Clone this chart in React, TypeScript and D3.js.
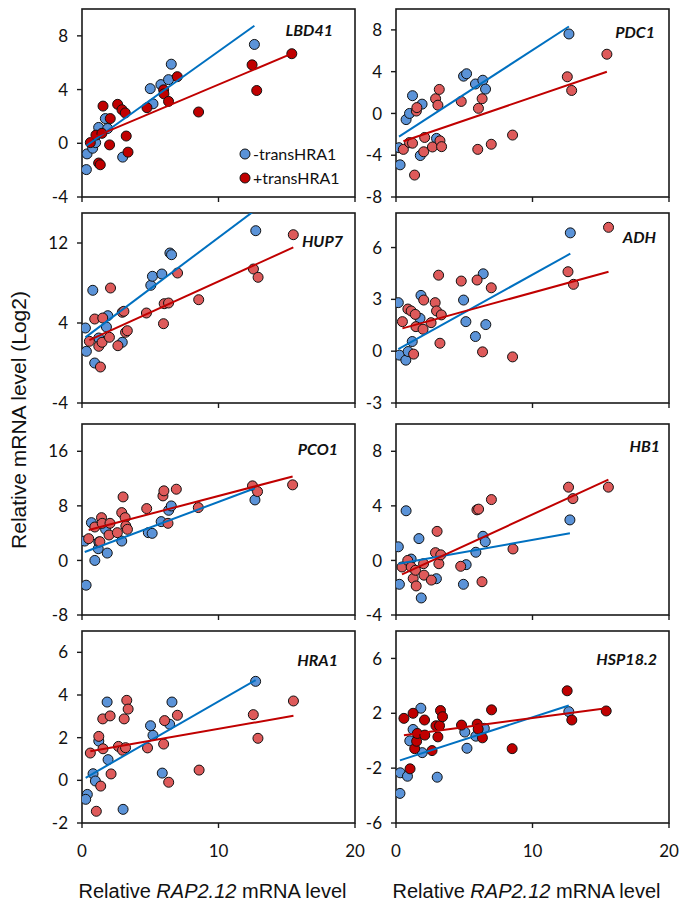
import * as d3 from 'd3';

type Pt = [number, number];

// shared x axis (relative RAP2.12 mRNA level)
const xDomain: [number, number] = [0, 20];
const xTicks = [0, 10, 20];

const genes = ['LBD41', 'PDC1', 'HUP7', 'ADH', 'PCO1', 'HB1', 'HRA1', 'HSP18.2'];

const yDomains: [number, number][] = [
  [-4, 10], [-8, 10], [-4, 15], [-3, 8],
  [-8, 20], [-4, 10], [-2, 7], [-6, 8],
];

const yTicks: number[][] = [
  [-4, 0, 4, 8], [-8, -4, 0, 4, 8], [-4, 4, 12], [-3, 0, 3, 6],
  [-8, 0, 8, 16], [-4, 0, 4, 8], [-2, 0, 2, 4, 6], [-6, -2, 2, 6],
];

// trend lines: [intercept, slope]
const blueFit: Pt[] = [
  [-0.42, 0.726], [-2.41, 0.847], [2.31, 1.023], [0.05, 0.438],
  [1.08, 0.75], [-0.28, 0.178], [0.02, 0.368], [-1.53, 0.324],
];
const redFit: Pt[] = [
  [0.08, 0.429], [-2.9, 0.446], [1.96, 0.62], [1.22, 0.217],
  [4.2, 0.525], [-1.23, 0.46], [1.29, 0.112], [0.32, 0.133],
];

// -transHRA1 (blue) and +transHRA1 (red) samples, [RAP2.12, gene]
const lbd41Blue: Pt[] = [
  [0.32, -1.96], [0.37, -0.79], [0.78, -0.37], [1.0, 0.05], [1.22, 1.18], [1.71, 1.84],
  [1.88, 1.1], [2.98, -1.03], [5.0, 4.07], [5.2, 2.94], [5.78, 4.37], [6.34, 4.74],
  [6.54, 5.89], [12.63, 7.36],
];
const lbd41Red: Pt[] = [
  [0.61, 0.05], [1.02, 0.61], [1.22, -1.47], [1.34, -1.6], [1.54, 2.77], [1.46, 0.74],
  [2.02, -0.12], [2.07, 1.84], [2.61, 2.9], [2.93, 2.5], [3.17, 2.26], [3.24, 0.54],
  [3.37, -0.66], [4.76, 2.65], [5.98, 3.98], [6.0, 3.68], [6.34, 3.12], [6.98, 4.96],
  [8.54, 2.33], [12.46, 5.84], [12.8, 3.93], [15.37, 6.67],
];

const pdc1Blue: Pt[] = [
  [0.22, -3.28], [0.3, -4.92], [0.74, -0.59], [0.99, 0.0], [1.21, 1.7], [1.78, -4.03],
  [1.91, 0.89], [2.97, -2.39], [4.95, 3.57], [5.17, 3.8], [5.82, 2.82], [6.36, 3.18],
  [6.56, 2.33], [12.67, 7.61],
];
const pdc1Red: Pt[] = [
  [0.54, -3.44], [0.99, -2.79], [1.21, -2.85], [1.36, -5.9], [1.49, 0.23], [1.53, 0.56],
  [2.03, -3.67], [2.1, -2.3], [2.67, -3.21], [2.9, 1.41], [3.07, 0.79], [3.17, 2.3],
  [3.22, -2.62], [3.34, -3.18], [4.78, 1.15], [5.99, -3.44], [6.04, 0.49], [6.31, 1.41],
  [6.98, -2.95], [8.54, -2.07], [12.55, 3.51], [12.87, 2.2], [15.45, 5.67],
];

const hup7Blue: Pt[] = [
  [0.25, 3.5], [0.32, 1.17], [0.79, 7.27], [0.93, 0.0], [1.23, 2.5], [1.89, 4.73],
  [1.79, 3.6], [2.95, 2.07], [5.04, 7.77], [5.16, 8.67], [5.85, 8.9], [6.44, 11.0],
  [6.56, 10.83], [12.73, 13.23],
];
const hup7Red: Pt[] = [
  [0.54, 2.17], [0.93, 4.4], [1.23, 1.67], [1.35, -0.4], [1.47, 2.07], [1.52, 4.5],
  [2.01, 2.57], [2.09, 7.5], [2.63, 1.73], [2.95, 5.07], [3.07, 5.17], [3.19, 3.07],
  [3.32, 3.23], [4.72, 5.0], [5.97, 3.93], [6.02, 5.93], [6.34, 6.0], [7.0, 9.0],
  [8.55, 6.33], [12.56, 9.4], [12.9, 8.57], [15.48, 12.83],
];

const adhBlue: Pt[] = [
  [0.17, 2.81], [0.25, -0.23], [0.72, -0.52], [0.89, -0.02], [1.19, 0.56], [1.83, 3.23],
  [1.76, 1.9], [4.95, 2.96], [5.12, 1.71], [5.82, 0.85], [6.39, 4.48], [6.58, 1.54],
  [12.77, 6.85],
];
const adhRed: Pt[] = [
  [0.47, 1.71], [0.87, 2.44], [1.11, 2.33], [1.29, -0.17], [1.41, 2.13], [1.46, 1.42],
  [2.03, 2.96], [1.98, 1.27], [2.57, 1.65], [2.87, 2.81], [2.97, 2.33], [3.12, 4.4],
  [3.22, 0.46], [3.32, 2.1], [4.78, 4.06], [5.94, 4.12], [6.34, -0.04], [6.98, 3.67],
  [8.54, -0.33], [12.6, 4.6], [13.0, 3.87], [15.57, 7.17],
];

const pco1Blue: Pt[] = [
  [0.2, 2.84], [0.3, -3.63], [0.69, 5.54], [0.94, 0.0], [1.19, 1.72], [1.23, 2.7],
  [1.73, 4.56], [1.85, 1.08], [2.91, 2.84], [4.86, 4.07], [5.14, 3.97], [5.8, 5.69],
  [6.35, 7.35], [6.54, 7.99], [12.67, 8.87],
];
const pco1Red: Pt[] = [
  [0.49, 3.19], [0.94, 4.9], [1.31, 2.75], [1.43, 6.27], [1.48, 5.44], [1.98, 3.73],
  [2.05, 5.44], [2.59, 4.07], [2.91, 7.01], [3.01, 9.31], [3.16, 6.27], [3.21, 5.05],
  [3.33, 4.56], [4.74, 7.6], [5.93, 9.46], [6.0, 10.2], [6.3, 5.44], [6.91, 10.44],
  [8.52, 7.75], [12.49, 10.93], [12.86, 10.1], [15.43, 11.08],
];

const hb1Blue: Pt[] = [
  [0.17, 1.0], [0.25, -1.75], [0.74, 3.64], [1.11, 0.1], [1.68, 1.6], [1.85, -2.75],
  [2.96, -1.34], [4.94, -1.75], [5.14, -0.31], [5.85, 0.6], [6.37, 1.77], [6.54, 1.37],
  [12.74, 2.97],
];
const hb1Red: Pt[] = [
  [0.44, -0.48], [0.86, 0.0], [1.11, -0.48], [1.26, -1.32], [1.43, -0.72], [1.48, -1.87],
  [2.02, -0.24], [2.05, -1.08], [2.59, -1.44], [2.89, 0.57], [3.01, 2.13], [3.14, -0.24],
  [3.28, 0.41], [4.74, -0.43], [5.93, 3.71], [6.05, 3.76], [6.3, -1.56], [6.99, 4.46],
  [8.57, 0.84], [12.64, 5.37], [12.96, 4.53], [15.56, 5.37],
];

const hra1Blue: Pt[] = [
  [0.39, -0.66], [0.27, -0.89], [0.81, 0.31], [0.98, -0.03], [1.23, 1.84], [1.84, 3.67],
  [1.91, 0.97], [3.01, -1.36], [5.02, 2.56], [5.2, 2.11], [5.88, 0.34], [6.42, 2.63],
  [6.59, 3.67], [12.72, 4.64],
];
const hra1Red: Pt[] = [
  [0.61, 1.28], [1.05, -1.45], [1.23, 2.06], [1.37, -0.27], [1.52, 2.88], [1.54, 1.48],
  [2.06, 3.02], [2.13, 0.3], [2.67, 1.59], [2.97, 1.41], [3.09, 2.88], [3.19, 1.53],
  [3.28, 3.75], [3.38, 3.34], [4.8, 1.52], [5.98, 1.7], [6.05, 2.8], [6.35, -0.09],
  [6.99, 3.05], [8.58, 0.48], [12.55, 3.08], [12.89, 1.97], [15.49, 3.72],
];

const hspBlue: Pt[] = [
  [0.31, -2.34], [0.29, -3.84], [0.84, -2.59], [1.01, -0.01], [1.25, 0.82], [1.82, 2.37],
  [1.92, -0.87], [3.02, -2.66], [5.04, 0.63], [5.2, -0.55], [5.85, 0.33], [6.47, 0.9],
  [12.66, 2.12],
];
const hspRed: Pt[] = [
  [0.58, 1.63], [1.03, -2.05], [1.25, 2.0], [1.37, -0.58], [1.51, -0.04], [1.56, 0.53],
  [2.09, 1.51], [2.11, 0.41], [2.64, -0.72], [2.93, 1.09], [3.07, 0.28], [3.19, 1.09],
  [3.26, 2.2], [3.41, 1.75], [4.8, 1.14], [5.95, 1.21], [6.02, 0.85], [6.33, 0.21],
  [7.0, 2.25], [8.51, -0.58], [12.54, 3.64], [12.88, 1.51], [15.4, 2.17],
];

const bluePoints = [lbd41Blue, pdc1Blue, hup7Blue, adhBlue, pco1Blue, hb1Blue, hra1Blue, hspBlue];
const redPoints = [lbd41Red, pdc1Red, hup7Red, adhRed, pco1Red, hb1Red, hra1Red, hspRed];
const darkRedPanels = ['LBD41', 'HSP18.2'];

const W = 686;
const H = 904;
const colLeft = [82, 396];
const colWidth = 273;
const rowTop = [9, 213, 424, 631];
const rowBottom = [197, 403, 615, 823];
// gene label placement (from panel's right edge / top edge)
const labelDx = [22, 14, 12, 13, 17, 9, 17, 12];
const labelDy = [27, 29, 34, 30, 31, 28, 35, 34];

const BLUE_DOT = '#5b93d8';
const BLUE_LINE = '#0070c0';
const RED_DARK = '#c00000';
const RED_LIGHT = '#de5a5a';
const RED_LINE = '#c00000';
const TICK_FONT = 'Lato, "Open Sans", sans-serif';
const TITLE_FONT = '"Liberation Sans", Arial, sans-serif';
const R = 5;

function Panel({ idx }: { idx: number }) {
  const gene = genes[idx];
  const col = idx % 2;
  const row = Math.floor(idx / 2);
  const left = colLeft[col];
  const right = left + colWidth;
  const top = rowTop[row];
  const bottom = rowBottom[row];

  const x = d3.scaleLinear().domain(xDomain).range([left, right]);
  const y = d3.scaleLinear().domain(yDomains[idx]).range([bottom, top]);
  const line = d3
    .line<Pt>()
    .x((d) => x(d[0]))
    .y((d) => y(d[1]));

  const fitLine = (pts: Pt[], fit: Pt): Pt[] => {
    const [x0, x1] = d3.extent(pts, (d) => d[0]) as [number, number];
    return [
      [x0, fit[0] + fit[1] * x0],
      [x1, fit[0] + fit[1] * x1],
    ];
  };

  const redFill = darkRedPanels.includes(gene) ? RED_DARK : RED_LIGHT;
  const clipId = `clip-${idx}`;

  return (
    <g>
      <defs>
        <clipPath id={clipId}>
          <rect x={left} y={top} width={right - left} height={bottom - top} />
        </clipPath>
      </defs>
      <rect x={left} y={top} width={right - left} height={bottom - top} fill="#fff" stroke="#1a1a1a" strokeWidth={1.6} />
      {yTicks[idx].map((t) => (
        <g key={t}>
          <line x1={left - 5} x2={left} y1={y(t)} y2={y(t)} stroke="#1a1a1a" strokeWidth={1.4} />
          <text x={left - 14} y={y(t)} dy="0.36em" textAnchor="end" fontFamily={TICK_FONT} fontSize={17} fill="#111">
            {t}
          </text>
        </g>
      ))}
      {xTicks.map((t) => (
        <g key={t}>
          <line x1={x(t)} x2={x(t)} y1={bottom} y2={bottom + 5} stroke="#1a1a1a" strokeWidth={1.4} />
          {row === 3 && (
            <text x={x(t)} y={bottom + 34} textAnchor="middle" fontFamily={TICK_FONT} fontSize={17} fill="#111">
              {t}
            </text>
          )}
        </g>
      ))}
      <g clipPath={`url(#${clipId})`}>
        {bluePoints[idx].map((d, i) => (
          <circle key={`b${i}`} cx={x(d[0])} cy={y(d[1])} r={R} fill={BLUE_DOT} stroke="#111" strokeWidth={1} />
        ))}
        {redPoints[idx].map((d, i) => (
          <circle key={`r${i}`} cx={x(d[0])} cy={y(d[1])} r={R} fill={redFill} stroke="#111" strokeWidth={1} />
        ))}
        <path d={line(fitLine(bluePoints[idx], blueFit[idx])) ?? ''} stroke={BLUE_LINE} strokeWidth={2} fill="none" />
        <path d={line(fitLine(redPoints[idx], redFit[idx])) ?? ''} stroke={RED_LINE} strokeWidth={2} fill="none" />
      </g>
      <text
        x={right - labelDx[idx]}
        y={top + labelDy[idx]}
        textAnchor="end"
        fontFamily={TICK_FONT}
        fontSize={16}
        fontWeight="bold"
        fontStyle="italic"
        fill="#111"
      >
        {gene}
      </text>
      {idx === 0 && (
        <g fontFamily={TICK_FONT} fontSize={16} fill="#111">
          <circle cx={245} cy={154} r={R} fill={BLUE_DOT} stroke="#111" strokeWidth={1} />
          <text x={253} y={154} dy="0.35em">-transHRA1</text>
          <circle cx={245} cy={178} r={R} fill={RED_DARK} stroke="#111" strokeWidth={1} />
          <text x={253} y={178} dy="0.35em">+transHRA1</text>
        </g>
      )}
    </g>
  );
}

export default function App() {
  return (
    <svg
      width={W}
      height={H}
      style={{ position: 'absolute', left: 0, top: 0, background: '#fff' }}
    >
      {genes.map((g, i) => (
        <Panel key={g} idx={i} />
      ))}
      {colLeft.map((l) => (
        <text
          key={l}
          x={l + colWidth / 2 - 6}
          y={898}
          textAnchor="middle"
          fontFamily={TITLE_FONT}
          fontSize={20}
          fill="#111"
        >
          Relative <tspan fontStyle="italic">RAP2.12</tspan> mRNA level
        </text>
      ))}
      <text
        transform="translate(26, 420) rotate(-90)"
        textAnchor="middle"
        fontFamily={TITLE_FONT}
        fontSize={21}
        fill="#111"
      >
        Relative mRNA level (Log2)
      </text>
    </svg>
  );
}
